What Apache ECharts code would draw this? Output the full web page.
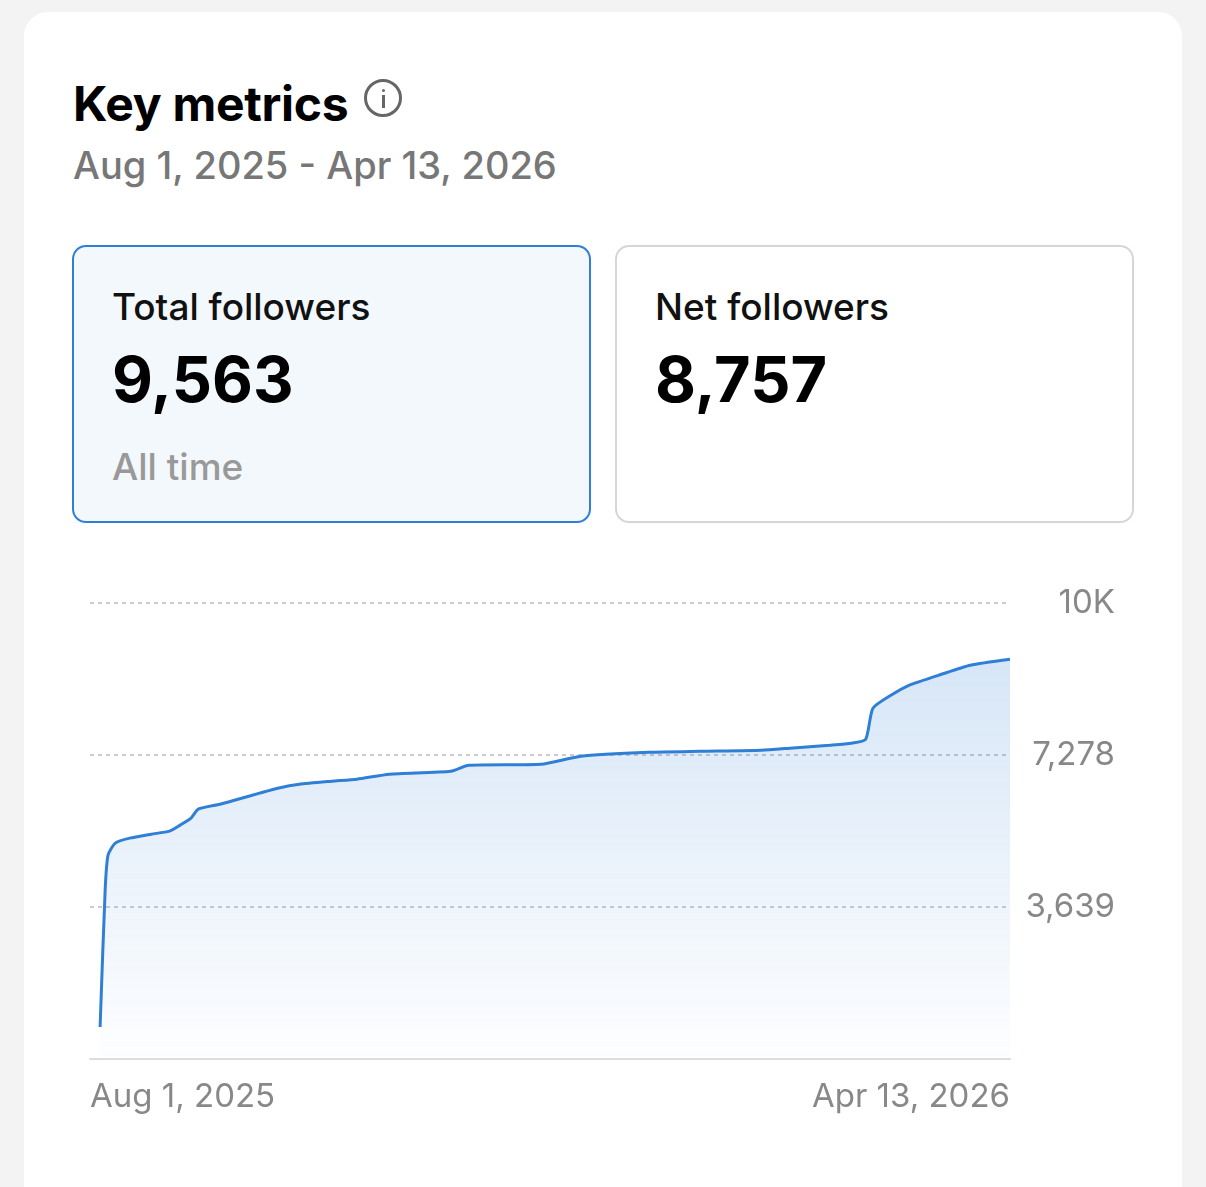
<!DOCTYPE html>
<html><head><meta charset="utf-8">
<script src="https://cdn.jsdelivr.net/npm/echarts@6/dist/echarts.min.js"></script>
<style>
body{margin:0;background:#f3f3f3;font-family:Inter,"Noto Sans",sans-serif;width:1206px;height:1187px;overflow:hidden;position:relative}
.card{position:absolute;left:24px;top:12px;width:1158px;height:1200px;background:#fff;border-radius:24px}
.t{position:absolute;left:73px;top:74px;font-size:48px;font-weight:700;color:#000;letter-spacing:-0.3px}
.info{display:inline-block;width:38px;height:38px;border:3px solid #666;border-radius:50%;box-sizing:border-box;vertical-align:4px;margin-left:16px;position:relative}
.info:before{content:"";position:absolute;left:15px;top:13px;width:3px;height:13px;background:#666}
.info:after{content:"";position:absolute;left:15px;top:7px;width:3px;height:3px;background:#666;border-radius:50%}
.d{position:absolute;left:73px;top:142px;font-size:38px;color:#777;font-weight:500}
.box{position:absolute;top:245px;height:278px;box-sizing:border-box;border-radius:14px}
.b1{left:72px;width:519px;background:#f3f8fd;border:2px solid #2f7fd6}
.b2{left:615px;width:519px;background:#fff;border:2px solid #d6d6d6}
.lab{position:absolute;left:38px;top:37px;font-size:37px;color:#111;font-weight:500}
.num{position:absolute;left:38px;top:94px;font-size:63px;font-weight:700;color:#000}
.sub{position:absolute;left:38px;top:197px;font-size:37px;color:#999;font-weight:500}
#c{position:absolute;left:0;top:0;width:1206px;height:1187px}
</style></head><body>
<div class="card"></div>
<div class="t">Key metrics<span class="info"></span></div>
<div class="d">Aug 1, 2025 - Apr 13, 2026</div>
<div class="box b1"><div class="lab">Total followers</div><div class="num">9,563</div><div class="sub">All time</div></div>
<div class="box b2"><div class="lab">Net followers</div><div class="num">8,757</div></div>
<div id="c"></div>
<script>
const xLabels=["Aug 1, 2025","Apr 13, 2026"];
const yTicks=[3639,7278,10917];
const days=[2.8,4.2,5,7,11,17,22,25,28,30,36,41,47,52,58,67,74,83,100,105,125,136,155,169,186,194,205,211,215,217,222,227,236,244,255];
const followers=[766,4043,4880,5167,5287,5383,5455,5600,5766,5981,6100,6220,6364,6483,6579,6651,6699,6818,6890,7033,7057,7249,7344,7368,7392,7440,7512,7560,7656,8397,8708,8947,9210,9426,9569];
const chart=echarts.init(document.getElementById('c'));
chart.setOption({
 animation:false,
 grid:{left:90,right:196,top:603,bottom:128},
 xAxis:{type:'value',min:0,max:255,interval:255,
  axisLine:{show:true,lineStyle:{color:'#ddd',width:2}},axisTick:{show:false},splitLine:{show:false},
  axisLabel:{formatter:v=>v===0?xLabels[0]:xLabels[1],fontSize:33,color:'#888',margin:22,fontFamily:'Inter',alignMinLabel:'left',alignMaxLabel:'right'}},
 yAxis:{type:'value',position:'right',min:0,max:10917,interval:3639,
  axisLine:{show:false},axisTick:{show:false},
  splitLine:{lineStyle:{color:'#bbb',type:[4,4],width:1.5}},
  axisLabel:{formatter:v=>v===0?'':(v>=10000?'10K':v.toLocaleString('en-US')),fontSize:33,color:'#888',align:'right',margin:105,fontFamily:'Inter'}},
 series:[{type:'line',data:days.map((d,i)=>[d,followers[i]]),showSymbol:false,smooth:0.2,
  lineStyle:{color:'#2f7fd6',width:3},
  areaStyle:{color:new echarts.graphic.LinearGradient(0,0,0,1,[{offset:0,color:'rgba(47,127,214,0.28)'},{offset:1,color:'rgba(47,127,214,0.01)'}])}}]
});
</script></body></html>
